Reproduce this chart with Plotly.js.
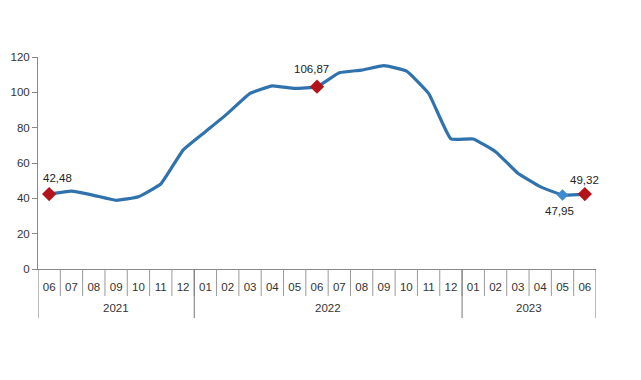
<!DOCTYPE html>
<html><head><meta charset="utf-8">
<script src="https://cdn.plot.ly/plotly-3.0.1.min.js"></script>
<style>html,body{margin:0;padding:0;background:#fff}#chart{width:641px;height:380px}</style>
</head><body><div id="chart"></div>
<script>
const years  = ['2021','2021','2021','2021','2021','2021','2021',
                '2022','2022','2022','2022','2022','2022','2022','2022','2022','2022','2022','2022',
                '2023','2023','2023','2023','2023','2023'];
const months = ['06','07','08','09','10','11','12',
                '01','02','03','04','05','06','07','08','09','10','11','12',
                '01','02','03','04','05','06'];
const values = [42.4,44.1,41.7,38.9,40.9,48.1,67.3,
                77.7,88.1,99.4,103.7,102.2,103.2,111.1,112.6,115.1,112.1,99.4,73.6,
                73.6,66.4,54.2,46.6,41.9,42.4];
const redIdx   = [0,12,24];
const blueIdx  = [23];
const labelIdx = [0,12,23,24];
const labelTxt = ['42,48','106,87','47,95','49,32'];

const font = 'Liberation Sans, Arial, sans-serif';
const keys = years.map((y,i) => y + '-' + months[i]);
const pick = (arr, idx) => idx.map(i => arr[i]);

const traces = [
  {x:keys, y:values, type:'scatter', mode:'lines',
   line:{color:'#2f72ad', width:3.2, shape:'spline', smoothing:0.35}, hoverinfo:'skip'},
  {x:pick(keys,redIdx), y:pick(values,redIdx), type:'scatter', mode:'markers',
   marker:{symbol:'diamond', size:11, color:'#b3141b'}},
  {x:pick(keys,blueIdx), y:pick(values,blueIdx), type:'scatter', mode:'markers',
   marker:{symbol:'diamond', size:9, color:'#3d8bd0'}}
];

// category-table lines and year labels, positioned through the category scale
const plotH = 380 - 57 - 111;
const shapes = [];
for (let i = 1; i < keys.length; i++) {
  shapes.push({type:'line', xref:'x', yref:'paper', x0:i-0.5, x1:i-0.5, y0:0, y1:-27/plotH,
               line:{color:'#999', width:1}});
}
const annotations = [];
const groups = [];
years.forEach((y,i) => {
  if (!groups.length || groups[groups.length-1].y !== y) groups.push({y:y, s:i, e:i});
  else groups[groups.length-1].e = i;
});
groups.forEach((g,k) => {
  shapes.push({type:'line', xref:'x', yref:'paper', x0:g.s-0.5, x1:g.s-0.5, y0:0, y1:-49/plotH,
               line:{color:'#777', width:1}});
  if (k === groups.length-1)
    shapes.push({type:'line', xref:'x', yref:'paper', x0:g.e+0.5, x1:g.e+0.5, y0:0, y1:-49/plotH,
                 line:{color:'#777', width:1}});
  annotations.push({x:(g.s+g.e)/2, y:-39/plotH, xref:'x', yref:'paper', yanchor:'middle',
                    text:g.y, showarrow:false, font:{family:font, size:11.5, color:'#333'}});
});

const xs = [8, -6, -3, 0];
const ys = [16, 18, -16, 14];
labelIdx.forEach((i,k) => annotations.push({
  x:keys[i], y:values[i], xref:'x', yref:'y',
  text:labelTxt[k], showarrow:false,
  yshift: ys[k], xshift: xs[k],
  font:{family:font, size:11.5, color:'#222'}
}));

const layout = {
  width:641, height:380,
  margin:{l:38, r:45, t:57, b:111},
  paper_bgcolor:'#fff', plot_bgcolor:'#fff',
  showlegend:false,
  font:{family:font, size:11, color:'#333'},
  xaxis:{type:'category', categoryorder:'array', categoryarray:keys,
         tickvals:keys, ticktext:months, tickangle:0,
         range:[-0.5, keys.length-0.5], showgrid:false, zeroline:false,
         showline:true, linecolor:'#888', linewidth:1, ticks:'',
         ticklabelstandoff:7,
         tickfont:{family:font, size:11.5, color:'#333'}},
  yaxis:{range:[0,120], tickvals:[0,20,40,60,80,100,120], showgrid:false, zeroline:false,
         showline:true, linecolor:'#888', linewidth:1,
         ticks:'outside', ticklen:5, tickcolor:'#888',
         tickfont:{family:font, size:11.5, color:'#333'}},
  shapes:shapes,
  annotations:annotations
};
Plotly.newPlot('chart', traces, layout, {staticPlot:true, displayModeBar:false});
</script></body></html>
